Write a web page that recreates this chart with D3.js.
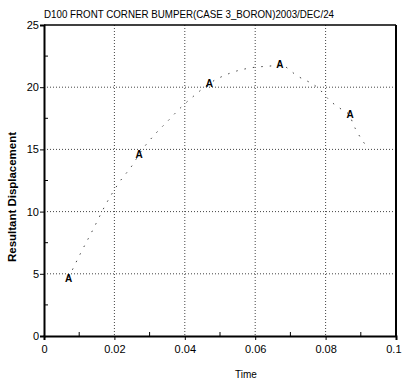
<!DOCTYPE html>
<html>
<head>
<meta charset="utf-8">
<script src="https://cdn.jsdelivr.net/npm/d3@7"></script>
<style>
  body { margin: 0; background: #fff; }
  text { font-family: "Liberation Sans", Arial, sans-serif; fill: #000; }
</style>
</head>
<body>
<svg id="chart"></svg>
<script>
const title = "D100 FRONT CORNER BUMPER(CASE 3_BORON)2003/DEC/24";
const time = [0.007, 0.0103, 0.014, 0.0174, 0.021, 0.0255, 0.027, 0.0318, 0.0349, 0.039, 0.043, 0.047,
  0.0526, 0.0598, 0.0642, 0.067, 0.072, 0.078, 0.0813, 0.0846, 0.0866, 0.0884, 0.092];
const displacement = [4.7, 6.6, 8.6, 10.5, 12.2, 13.9, 14.6, 16.3, 17.2, 18.4, 19.4, 20.3,
  21.1, 21.6, 21.7, 21.8, 20.9, 19.9, 18.9, 18.2, 17.8, 16.7, 15.1];
const markerTime = [0.007, 0.027, 0.047, 0.067, 0.087];
const markerValue = [4.6, 14.6, 20.3, 21.8, 17.8];
const xTicks = [0, 0.02, 0.04, 0.06, 0.08, 0.1];
const yTicks = [0, 5, 10, 15, 20, 25];

const width = 402, height = 381;
const margin = { top: 25, right: 6, bottom: 45, left: 44 };

const svg = d3.select("#chart").attr("width", width).attr("height", height);

const x = d3.scaleLinear().domain([0, 0.1]).range([margin.left, width - margin.right]);
const y = d3.scaleLinear().domain([0, 25]).range([height - margin.bottom, margin.top]);

// grid
svg.append("g")
  .selectAll("line")
  .data(xTicks.slice(1, -1))
  .join("line")
  .attr("x1", d => x(d)).attr("x2", d => x(d))
  .attr("y1", y(25)).attr("y2", y(0))
  .style("stroke", "#444").style("stroke-width", 1).style("stroke-dasharray", "1,2");

svg.append("g")
  .selectAll("line")
  .data(yTicks.slice(1, -1))
  .join("line")
  .attr("x1", x(0)).attr("x2", x(0.1))
  .attr("y1", d => y(d)).attr("y2", d => y(d))
  .style("stroke", "#444").style("stroke-width", 1).style("stroke-dasharray", "1,2");

// axes
const xAxis = svg.append("g")
  .attr("transform", `translate(0,${y(0)})`)
  .call(d3.axisBottom(x).tickValues(xTicks).tickFormat(d => d === 0 ? "0" : d === 0.1 ? "0.1" : d3.format(".2f")(d)).tickSize(4));
xAxis.select(".domain").style("stroke-width", 2);
xAxis.selectAll("text").style("font-size", "11px").attr("dy", "0.9em");
// keep the last label inside the picture
xAxis.selectAll(".tick text").filter(d => d === 0.1).attr("text-anchor", "end").attr("x", 5);

const yAxis = svg.append("g")
  .attr("transform", `translate(${x(0)},0)`)
  .call(d3.axisLeft(y).tickValues(yTicks).tickSize(4));
yAxis.select(".domain").style("stroke-width", 2);
yAxis.selectAll("text").style("font-size", "11px").attr("x", -5);

// minor ticks
svg.append("g")
  .selectAll("line")
  .data(d3.range(0.01, 0.1, 0.02))
  .join("line")
  .attr("x1", d => x(d)).attr("x2", d => x(d))
  .attr("y1", y(0)).attr("y2", y(0) - 4)
  .style("stroke", "#000");

svg.append("g")
  .selectAll("line")
  .data(d3.range(2.5, 25, 5))
  .join("line")
  .attr("x1", x(0)).attr("x2", x(0) + 4)
  .attr("y1", d => y(d)).attr("y2", d => y(d))
  .style("stroke", "#000");

// frame top / right
svg.append("line")
  .attr("x1", x(0)).attr("x2", x(0.1)).attr("y1", y(25)).attr("y2", y(25))
  .style("stroke", "#000").style("stroke-width", 1.5);
svg.append("line")
  .attr("x1", x(0.1)).attr("x2", x(0.1)).attr("y1", y(25)).attr("y2", y(0))
  .style("stroke", "#000").style("stroke-width", 2);

// curve
const line = d3.line().x((d, i) => x(time[i])).y(d => y(d)).curve(d3.curveMonotoneX);
svg.append("path")
  .datum(displacement)
  .attr("d", line)
  .style("fill", "none")
  .style("stroke", "#444")
  .style("stroke-width", 1)
  .style("stroke-dasharray", "1.5,7");

// markers
svg.append("g")
  .selectAll("text")
  .data(markerTime)
  .join("text")
  .attr("x", d => x(d))
  .attr("y", (d, i) => y(markerValue[i]))
  .attr("dy", "0.35em")
  .attr("text-anchor", "middle")
  .style("font-size", "10px")
  .style("font-weight", "bold")
  .text("A");

// title and labels
svg.append("text")
  .attr("x", x(0))
  .attr("y", 18)
  .attr("textLength", 290)
  .attr("lengthAdjust", "spacingAndGlyphs")
  .style("font-size", "11px")
  .text(title);

svg.append("text")
  .attr("transform", `translate(16,197) rotate(-90)`)
  .attr("text-anchor", "middle")
  .attr("textLength", 130)
  .attr("lengthAdjust", "spacingAndGlyphs")
  .style("font-size", "11px")
  .style("font-weight", "bold")
  .text("Resultant Displacement");

svg.append("text")
  .attr("x", 246)
  .attr("y", 378)
  .attr("text-anchor", "middle")
  .style("font-size", "10px")
  .text("Time");
</script>
</body>
</html>
